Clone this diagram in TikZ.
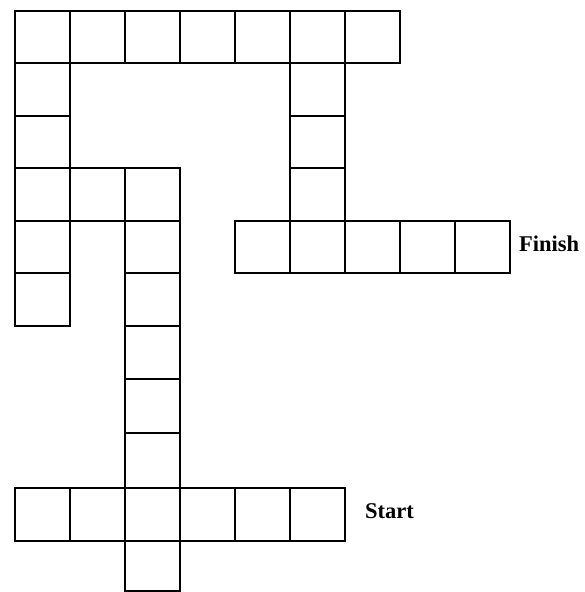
\documentclass[tikz,border=0pt]{standalone}
\usepackage{fontspec}
\setmainfont{Liberation Serif}
\begin{document}
\begin{tikzpicture}[x=1pt,y=-1pt,
  cellbox/.style={draw=black,line width=1.5pt,rectangle,inner sep=0pt,minimum width=55pt,anchor=north west},
  lbl/.style={font=\bfseries\fontsize{22.5}{24}\selectfont,anchor=west,inner sep=0pt}]
\useasboundingbox (0,0) rectangle (585,592);
% row lines
\def\rowy#1{\ifcase#1 10\or 62\or 115\or 167\or 220\or 272\or 325\or 378\or 432\or 487\or 540\or 590\fi}
\newcommand{\cell}[2]{% #1 row, #2 col
  \pgfmathsetmacro{\ya}{\rowy{#1}}%
  \pgfmathsetmacro{\yb}{\rowy{\the\numexpr#1+1\relax}}%
  \pgfmathsetmacro{\hh}{\yb-\ya}%
  \node[cellbox,minimum height=\hh pt] (c-#1-#2) at ({14+55*#2},\ya) {};}
% top row
\foreach \c in {0,...,6} {\cell{0}{\c}}
% left column
\foreach \r in {1,...,5} {\cell{\r}{0}}
\cell{3}{1}
% middle column
\foreach \r in {3,...,8} {\cell{\r}{2}}
% right column
\foreach \r in {1,2,3} {\cell{\r}{5}}
% finish row
\foreach \c in {4,...,8} {\cell{4}{\c}}
% start row
\foreach \c in {0,1,3,4,5} {\cell{9}{\c}}
\cell{9}{2}
\cell{10}{2}
\node[lbl] (finish) at (519,244) {Finish};
\node[lbl] (start) at (365,511) {Start};
\end{tikzpicture}
\end{document}
